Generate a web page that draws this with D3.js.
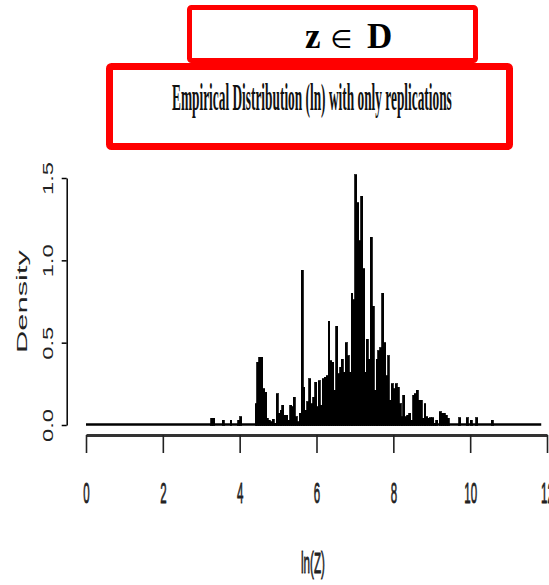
<!DOCTYPE html>
<html>
<head>
<meta charset="utf-8">
<script src="https://cdn.jsdelivr.net/npm/d3@7"></script>
<style>
  html, body { margin: 0; padding: 0; background: #fff; }
  svg { display: block; }
</style>
</head>
<body>
<svg id="chart" width="549" height="585"></svg>
<script>
// ---- data ----
const boxTitle = ["z", "\u2208", "D"];
const mainTitle = "Empirical Distribution (ln) with only replications";
const xLabel = "ln(Z)";
const yLabel = "Density";
const xTicks = [0, 2, 4, 6, 8, 10, 12];
const yTicks = [0.0, 0.5, 1.0, 1.5];
const yTickLabels = ["0.0", "0.5", "1.0", "1.5"];
const histRange = [0, 11.85];     // full extent of the histogram breaks
const binWidth = 0.05;
const firstBin = 3.2;             // left edge of first listed bin
// densities for consecutive bins starting at firstBin
const densities = [
  0, 0.04, 0.04, 0, 0, 0, 0, 0.03, 0, 0, 0, 0.03, 0, 0, 0, 0.03, 0.05,   // 3.20 - 4.00
  0, 0, 0, 0, 0, 0, 0,                                                   // 4.05 - 4.35
  0.13, 0.38, 0.41, 0.41, 0.22, 0.20, 0.04, 0.03, 0.02, 0.035, 0.01,     // 4.40 - 4.90
  0.19, 0.07, 0.09, 0.12, 0.06, 0.06, 0.03, 0.12, 0.11, 0.17, 0.05,      // 4.95 - 5.45
  0.02, 0.07, 0.94, 0.23, 0.09, 0.14, 0.28, 0.13, 0.17, 0.26,            // 5.50 - 5.95
  0.11, 0.27, 0.12, 0.28, 0.29, 0.30, 0.63, 0.39, 0.38, 0.21,            // 6.00 - 6.45
  0.60, 0.31, 0.35, 0.40, 0.32, 0.50, 0.42, 0.32, 0.80, 0.76,            // 6.50 - 6.95
  1.52, 1.35, 1.12, 1.39, 0.95, 0.32, 0.52, 0.40, 1.14, 0.72,            // 7.00 - 7.45
  0.21, 0.40, 0.45, 0.47, 0.80, 0.50, 0.30, 0.42, 0.15, 0.25,            // 7.50 - 7.95
  0.22, 0.25, 0.23, 0.13, 0.05, 0.18, 0.05, 0.06, 0.07, 0.03,            // 8.00 - 8.45
  0.18, 0.19, 0.21, 0.15, 0.15, 0.04, 0.13, 0.05, 0.04, 0.045,           // 8.50 - 8.95
  0.045, 0.01, 0.03, 0, 0.08, 0.07, 0.07, 0.06, 0.04, 0,                 // 9.00 - 9.45
  0, 0, 0, 0, 0.045, 0, 0, 0, 0.045, 0,                                  // 9.50 - 9.95
  0.03, 0, 0, 0.045, 0, 0, 0, 0, 0, 0, 0, 0.03                           // 10.00 - 10.55
];

// ---- drawing ----
const svg = d3.select("#chart");
svg.append("rect").attr("width", 549).attr("height", 585).attr("fill", "#fff");

const x = d3.scaleLinear().domain([0, 12]).range([86, 547]);
const y = d3.scaleLinear().domain([0, 1.5]).range([425, 178]);

// squeeze a text horizontally to a target width using a transform
function squeeze(sel, tx, ty, targetW) {
  sel.each(function () {
    const w = this.getComputedTextLength() || targetW;
    d3.select(this).attr("transform", `translate(${tx},${ty}) scale(${targetW / w},1)`);
  });
}

// Title boxes
svg.append("rect")
  .attr("x", 189.5).attr("y", 7.5).attr("width", 286).attr("height", 53)
  .attr("rx", 2).attr("fill", "none").attr("stroke", "#ff0000").attr("stroke-width", 5);
svg.append("rect")
  .attr("x", 109.5).attr("y", 66.5).attr("width", 400).attr("height", 80)
  .attr("rx", 2).attr("fill", "#fff").attr("stroke", "#ff0000").attr("stroke-width", 7);

const serif = "'Liberation Serif','Times New Roman',serif";
svg.append("text").attr("x", 305).attr("y", 48).text(boxTitle[0])
  .attr("font-family", serif).attr("font-weight", "bold").attr("font-size", 35).attr("fill", "#000");
svg.append("text").attr("text-anchor", "middle").attr("x", 341.5).attr("y", 48).text(boxTitle[1])
  .attr("font-family", "'DejaVu Sans',sans-serif").attr("font-size", 25).attr("fill", "#000");
svg.append("text").attr("x", 367).attr("y", 48).text(boxTitle[2])
  .attr("font-family", serif).attr("font-weight", "bold").attr("font-size", 35).attr("fill", "#000");

svg.append("text").text(mainTitle)
  .attr("font-family", serif).attr("font-weight", "bold").attr("font-size", 37).attr("fill", "#111")
  .call(squeeze, 172, 110, 280);

// Histogram bars
const bins = densities.map((d, i) => ({ x0: firstBin + i * binWidth, x1: firstBin + (i + 1) * binWidth, d }));
svg.append("g").attr("shape-rendering", "crispEdges")
  .selectAll("rect").data(bins.filter(b => b.d > 0)).join("rect")
  .attr("x", b => x(b.x0))
  .attr("width", b => x(b.x1) - x(b.x0))
  .attr("y", b => y(b.d))
  .attr("height", b => y(0) - y(b.d))
  .attr("fill", "#000").attr("stroke", "#000").attr("stroke-width", 0.8);

// zero line across all breaks
svg.append("line")
  .attr("x1", x(histRange[0])).attr("x2", x(histRange[1]))
  .attr("y1", y(0) - 0.5).attr("y2", y(0) - 0.5)
  .attr("stroke", "#000").attr("stroke-width", 2.6);

const sans = "'Liberation Sans',Arial,sans-serif";

// X axis
const xAxis = svg.append("g").attr("transform", "translate(0,435)")
  .call(d3.axisBottom(x).tickValues(xTicks).tickSize(18).tickSizeOuter(0).tickFormat(d3.format("d")));
xAxis.select(".domain").attr("stroke", "#333").attr("stroke-width", 3);
xAxis.selectAll(".tick line").attr("stroke", "#222").attr("stroke-width", 1.6);
xAxis.selectAll(".tick text")
  .attr("dy", null).attr("y", 0).attr("x", 0)
  .attr("font-family", sans).attr("font-size", 30).attr("fill", "#222")
  .attr("stroke", "#222").attr("stroke-width", 0.8)
  .each(function () {
    d3.select(this).call(squeeze, 0, 68, 6.4 * this.textContent.length);
  });

// Y axis
const yAxis = svg.append("g").attr("transform", "translate(66.7,0)")
  .call(d3.axisLeft(y).tickValues(yTicks).tickSize(5).tickSizeOuter(0).tickFormat((d, i) => yTickLabels[i]));
yAxis.select(".domain").attr("stroke", "#000").attr("stroke-width", 1.5);
yAxis.selectAll(".tick line").attr("stroke", "#000").attr("stroke-width", 1.5);
yAxis.selectAll(".tick text")
  .attr("dy", null).attr("x", 0).attr("y", -13.7)
  .attr("transform", "rotate(-90)")
  .attr("text-anchor", "middle")
  .attr("font-family", sans).attr("font-size", 14).attr("fill", "#222")
  .attr("textLength", 33).attr("lengthAdjust", "spacingAndGlyphs");

// Axis titles
svg.append("text").attr("text-anchor", "middle").text(xLabel)
  .attr("font-family", sans).attr("font-size", 30).attr("fill", "#222")
  .attr("stroke", "#222").attr("stroke-width", 0.8)
  .call(squeeze, 313, 573, 24);
svg.append("text").attr("transform", "translate(27.3,301.5) rotate(-90)")
  .attr("text-anchor", "middle").text(yLabel)
  .attr("font-family", sans).attr("font-size", 14.7).attr("fill", "#222")
  .attr("textLength", 103).attr("lengthAdjust", "spacingAndGlyphs");
</script>
</body>
</html>
